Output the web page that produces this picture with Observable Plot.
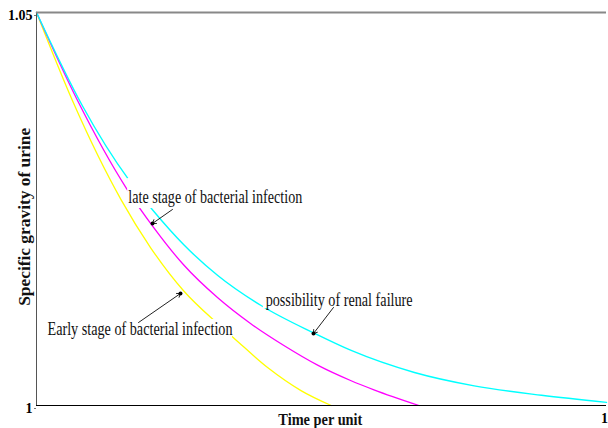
<!DOCTYPE html>
<html><head><meta charset="utf-8">
<script src="https://cdn.jsdelivr.net/npm/d3@7"></script>
<script src="https://cdn.jsdelivr.net/npm/@observablehq/plot@0.6"></script>
<style>body{margin:0;background:#fff}#chart svg{display:block}</style>
</head><body><div id="chart"></div>
<script>
// ---- data ----
const renalTime    = [0, 0.08, 0.163, 0.206, 0.258, 0.318, 0.394, 0.487, 0.552, 0.663, 0.768, 0.886, 1.0];
const renalGravity = [1.05, 1.0382, 1.0286, 1.02468, 1.02048, 1.01654, 1.01272, 1.0092, 1.0070, 1.0042, 1.0025, 1.0013, 1.0004];

const lateTime    = [0, 0.072, 0.158, 0.206, 0.258, 0.318, 0.376, 0.434, 0.494, 0.552, 0.592, 0.671];
const lateGravity = [1.05, 1.0388, 1.0276, 1.0226, 1.0179, 1.0137, 1.0104, 1.00763, 1.0051, 1.00315, 1.00200, 1.0];

const earlyTime    = [0, 0.063, 0.149, 0.200, 0.258, 0.318, 0.346, 0.406, 0.464, 0.517];
const earlyGravity = [1.05, 1.0388, 1.0261, 1.0201, 1.0146, 1.0104, 1.0086, 1.0048, 1.0019, 1.0];

const annotationTexts = ["late stage of bacterial infection", "possibility of renal failure", "Early stage of bacterial infection"];
const annotationX = [0.161, 0.402, 0.0193];
const annotationY = [1.0265, 1.0134, 1.0097];

const boxX1 = [0.160, 0.398, 0.0158];
const boxX2 = [0.472, 0.663, 0.344];
const boxY1 = [1.02506, 1.01234, 1.00827];
const boxY2 = [1.02888, 1.01463, 1.01094];

const arrowX1 = [0.2386, 0.521, 0.179];
const arrowY1 = [1.02494, 1.01247, 1.01056];
const arrowX2 = [0.2035, 0.486, 0.2526];
const arrowY2 = [1.02316, 1.00916, 1.01425];

const yTickValues = [1, 1.05];
const yTickLabels = ["1", "1.05"];
const xTickValues = [1];
const xTickLabels = ["1"];
const xTitle = "Time per unit";
const yTitle = "Specific gravity of urine";
const yTitlePos = 1.024;
const xTitlePos = 0.498;

// ---- styles ----
const textWidths = new Map([
  [annotationTexts[0], 174], [annotationTexts[1], 147], [annotationTexts[2], 185],
  [xTitle, 84], [yTitle, 178]
]);

const rows = (xs, ys) => xs.map((x, i) => ({x, y: ys[i]}));
const idx = annotationTexts.map((_, i) => i);

const plot = Plot.plot({
  width: 608, height: 428,
  marginLeft: 36, marginRight: 2, marginTop: 12, marginBottom: 23,
  style: {fontFamily: "'Liberation Serif','Times New Roman',serif", background: "#fff", color: "#000"},
  x: {domain: [0, 1], axis: null},
  y: {domain: [1, 1.05], axis: null},
  marks: [
    Plot.line(rows(earlyTime, earlyGravity), {x: "x", y: "y", stroke: "#ffff00", strokeWidth: 1.3, curve: "monotone-x"}),
    Plot.line(rows(lateTime, lateGravity), {x: "x", y: "y", stroke: "#ff00ff", strokeWidth: 1.3, curve: "monotone-x"}),
    Plot.line(rows(renalTime, renalGravity), {x: "x", y: "y", stroke: "#00ffff", strokeWidth: 1.4, curve: "monotone-x"}),
    Plot.rect(idx, {x1: i => boxX1[i], x2: i => boxX2[i], y1: i => boxY1[i], y2: i => boxY2[i], fill: "#fff"}),
    Plot.text(idx, {x: i => annotationX[i], y: i => annotationY[i], text: i => annotationTexts[i],
      textAnchor: "start", lineAnchor: "middle", fontSize: 18, fill: "#111"}),
    Plot.arrow(idx, {x1: i => arrowX1[i], y1: i => arrowY1[i], x2: i => arrowX2[i], y2: i => arrowY2[i],
      stroke: "#222", strokeWidth: 1, headLength: 6, headAngle: 70}),
    Plot.dot(idx, {x: i => arrowX2[i], y: i => arrowY2[i], r: 2, fill: "#000"}),
    Plot.ruleX([0], {stroke: "#555", strokeWidth: 1}),
    Plot.ruleY([1.05], {stroke: "#888", strokeWidth: 2}),
    Plot.ruleY([1], {stroke: "#000", strokeWidth: 1.2}),
    Plot.axisY(yTickValues, {anchor: "left", tickSize: 2, tickPadding: 2, dy: 3, fontSize: 14, fontWeight: "bold",
      tickFormat: d => yTickLabels[yTickValues.indexOf(d)], label: null, stroke: "#777"}),
    Plot.axisX(xTickValues, {anchor: "bottom", tickSize: 0, tickPadding: 8, dx: -2, fontSize: 14, fontWeight: "bold",
      tickFormat: d => xTickLabels[xTickValues.indexOf(d)], label: null}),
    Plot.text([xTitle], {x: xTitlePos, frameAnchor: "bottom", dy: 14, lineAnchor: "middle", textAnchor: "middle", fontSize: 16, fontWeight: "bold", fill: "#111"}),
    Plot.text([yTitle], {y: yTitlePos, frameAnchor: "left", dx: -12, rotate: -90, lineAnchor: "middle", textAnchor: "middle", fontSize: 16, fontWeight: "bold", fill: "#111"})
  ]
});

plot.querySelectorAll("text").forEach(t => {
  const w = textWidths.get(t.textContent);
  if (w) { t.setAttribute("textLength", w); t.setAttribute("lengthAdjust", "spacingAndGlyphs"); }
});
document.getElementById("chart").appendChild(plot);
</script>
</body></html>
